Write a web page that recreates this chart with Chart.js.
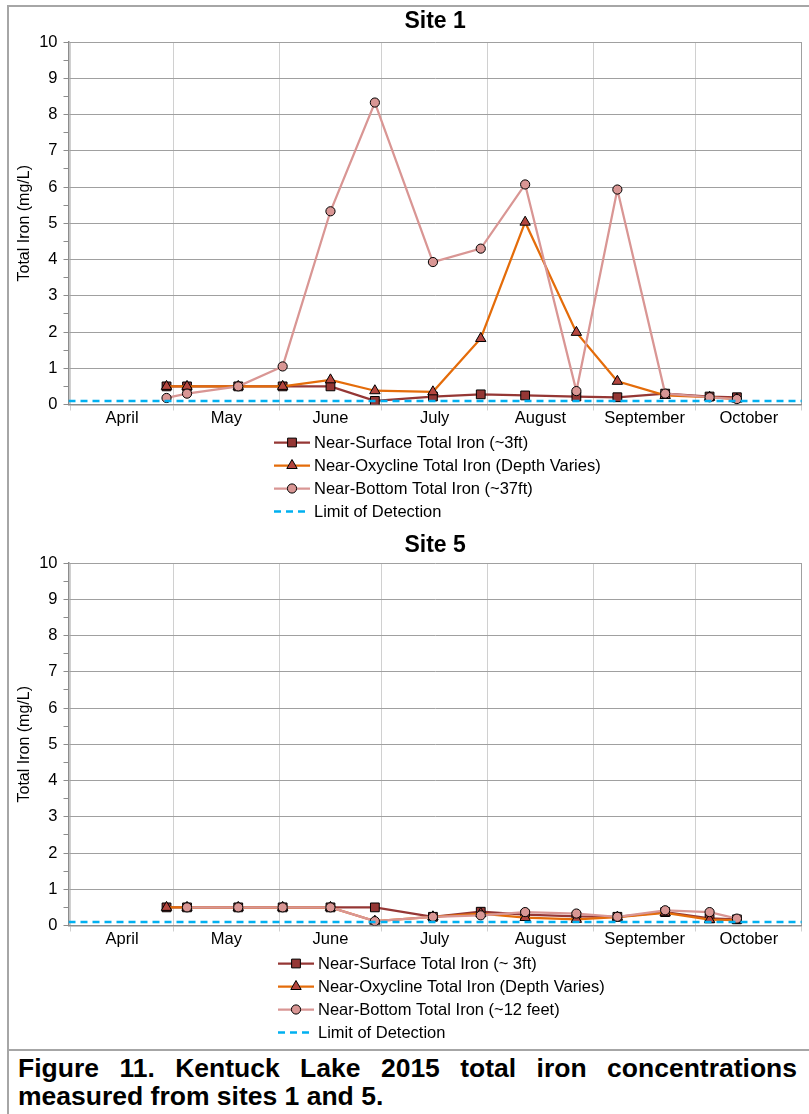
<!DOCTYPE html>
<html>
<head>
<meta charset="utf-8">
<script src="https://cdn.jsdelivr.net/npm/chart.js@4.4.1/dist/chart.umd.min.js"></script>
<style>
  body { margin: 0; background: #fff; width: 809px; height: 1114px; overflow: hidden; position: relative; font-family: "Liberation Sans", Arial, sans-serif; }
  #frame { position: absolute; left: 7px; top: 5px; width: 900px; height: 1200px; border-left: 2px solid #a6a6a6; border-top: 2px solid #a6a6a6; }
  #divider { position: absolute; left: 7px; top: 1049px; width: 900px; height: 2px; background: #a6a6a6; }
  canvas { position: absolute; left: 0; }
  #site1 { top: 0; }
  #site5 { top: 521px; }
  #caption { position: absolute; left: 18px; top: 1054px; width: 779px; font-weight: bold; font-size: 26.5px; line-height: 28px; text-align: justify; text-align-last: left; color: #000; }
</style>
</head>
<body>
<div id="frame"></div>
<div id="divider"></div>
<canvas id="site1" width="809" height="521"></canvas>
<canvas id="site5" width="809" height="525"></canvas>
<div id="caption">Figure 11. Kentuck Lake 2015 total iron concentrations measured from sites 1 and 5.</div>
<script>
// x axis runs in days after April 1, 2015
const months = ['April', 'May', 'June', 'July', 'August', 'September', 'October'];
const monthStarts = [0, 30, 61, 91, 122, 153, 183, 214];
const sampleDates = ['04-29', '05-05', '05-20', '06-02', '06-16', '06-29', '07-16',
                     '07-30', '08-12', '08-27', '09-08', '09-22', '10-05', '10-13'];
const detectionLimit = 0.1;

// total iron, mg/L
const site1Surface  = [0.5, 0.5, 0.5, 0.5, 0.5, 0.1, 0.22, 0.28, 0.25, 0.22, 0.2, 0.3, 0.22, 0.2];
const site1Oxycline = [0.5, 0.5, 0.5, 0.5, 0.68, 0.38, 0.35, 1.82, 5.03, 1.99, 0.64, 0.25, 0.2, 0.15];
const site1Bottom   = [0.18, 0.3, 0.5, 1.05, 5.33, 8.33, 3.93, 4.3, 6.07, 0.37, 5.93, 0.3, 0.2, 0.15];

const site5Surface  = [0.5, 0.5, 0.5, 0.5, 0.5, 0.5, 0.24, 0.38, 0.3, 0.25, 0.24, 0.37, 0.2, 0.17];
const site5Oxycline = [0.5, 0.5, 0.5, 0.5, 0.5, 0.12, 0.24, 0.33, 0.22, 0.17, 0.23, 0.35, 0.16, 0.15];
const site5Bottom   = [null, 0.5, 0.5, 0.5, 0.5, 0.12, 0.24, 0.28, 0.37, 0.33, 0.24, 0.42, 0.37, 0.19];

const site1Labels = ['Near-Surface Total Iron (~3ft)', 'Near-Oxycline Total Iron (Depth Varies)',
                     'Near-Bottom Total Iron (~37ft)', 'Limit of Detection'];
const site5Labels = ['Near-Surface Total Iron (~ 3ft)', 'Near-Oxycline Total Iron (Depth Varies)',
                     'Near-Bottom Total Iron (~12 feet)', 'Limit of Detection'];

const FONT = '"Liberation Sans", Arial, sans-serif';
const X_MIN = -0.7;
const X_MAX = 214;

function dayOf(md) {
  const [m, d] = md.split('-').map(Number);
  return (Date.UTC(2015, m - 1, d) - Date.UTC(2015, 3, 1)) / 86400000;
}

function toPoints(values) {
  return sampleDates.map((d, i) => ({ x: dayOf(d), y: values[i] }));
}

const monthMids = months.map((m, i) => (monthStarts[i] + monthStarts[i + 1]) / 2);

function drawMarker(ctx, style, r, x, y) {
  ctx.beginPath();
  if (style === 'rect') {
    const s = r * Math.SQRT1_2;
    ctx.rect(x - s, y - s, 2 * s, 2 * s);
  } else if (style === 'triangle') {
    ctx.moveTo(x, y - r);
    ctx.lineTo(x + r * 0.866, y + r * 0.5);
    ctx.lineTo(x - r * 0.866, y + r * 0.5);
    ctx.closePath();
  } else {
    ctx.arc(x, y, r, 0, Math.PI * 2);
  }
  ctx.fill();
  ctx.stroke();
}

// line + marker + label list under the plot
const seriesLegend = {
  id: 'seriesLegend',
  afterDraw(chart, args, opts) {
    const { ctx, chartArea } = chart;
    ctx.save();
    chart.data.datasets.forEach((ds, i) => {
      const y = Math.round(chartArea.bottom + opts.top + i * opts.step) + 0.5;
      const x = opts.left;
      ctx.strokeStyle = ds.borderColor;
      ctx.lineWidth = ds.borderWidth;
      ctx.setLineDash(ds.borderDash || []);
      ctx.beginPath();
      ctx.moveTo(x, y);
      ctx.lineTo(x + 36, y);
      ctx.stroke();
      ctx.setLineDash([]);
      if (ds.pointRadius) {
        ctx.fillStyle = ds.pointBackgroundColor;
        ctx.strokeStyle = '#000';
        ctx.lineWidth = 1;
        drawMarker(ctx, ds.pointStyle, ds.pointRadius, x + 18, y);
      }
      ctx.fillStyle = '#000';
      ctx.font = '16.5px ' + FONT;
      ctx.textBaseline = 'middle';
      ctx.fillText(ds.label, x + 40, y + 1);
    });
    ctx.restore();
  }
};

function ironChart(id, title, labels, surface, oxycline, bottom, layout) {
  return new Chart(document.getElementById(id), {
    type: 'line',
    data: {
      datasets: [
        { label: labels[0], data: toPoints(surface), borderColor: '#953735', borderWidth: 2.25,
          pointStyle: 'rect', pointRadius: 6.2, pointBackgroundColor: '#953735',
          pointBorderColor: '#000', pointBorderWidth: 1, order: 4 },
        { label: labels[1], data: toPoints(oxycline), borderColor: '#e46c0a', borderWidth: 2.25,
          pointStyle: 'triangle', pointRadius: 6, pointBackgroundColor: '#b4463f',
          pointBorderColor: '#000', pointBorderWidth: 1, order: 3 },
        { label: labels[2], data: toPoints(bottom), borderColor: '#d99694', borderWidth: 2.25,
          pointStyle: 'circle', pointRadius: 4.6, pointBackgroundColor: '#d99694',
          pointBorderColor: '#000', pointBorderWidth: 1, order: 2 },
        { label: labels[3], data: [{ x: X_MIN, y: detectionLimit }, { x: X_MAX, y: detectionLimit }],
          borderColor: '#00b0f0', borderWidth: 2.5, borderDash: [7, 5], pointRadius: 0, order: 1 }
      ]
    },
    options: {
      responsive: false,
      animation: false,
      devicePixelRatio: 1,
      layout: { padding: { left: 0, right: 7, top: 0, bottom: layout.bottom } },
      plugins: {
        legend: { display: false },
        tooltip: { enabled: false },
        title: {
          display: true, text: title, color: '#000', fullSize: false,
          font: { family: FONT, size: 23, weight: 'bold' },
          padding: { top: layout.titleTop, bottom: 42 - 27.6 - layout.titleTop }
        },
        seriesLegend: { left: layout.legendLeft, top: 37, step: 23.3 }
      },
      scales: {
        x: {
          type: 'linear', min: X_MIN, max: X_MAX,
          afterBuildTicks: s => {
            s.ticks = monthStarts.concat(monthMids).sort((a, b) => a - b).map(v => ({ value: v }));
          },
          afterFit: s => { s.height = 30.5; },
          ticks: {
            autoSkip: false, maxRotation: 0, padding: 0, color: '#000',
            font: { family: FONT, size: 16.5, lineHeight: 1 },
            callback: v => { const i = monthMids.indexOf(v); return i >= 0 ? months[i] : ''; }
          },
          grid: {
            tickLength: 6,
            color: c => monthStarts.includes(c.tick.value)
              ? (c.tick.value === X_MAX ? '#a0a0a0' : '#d0d0d0') : 'rgba(0,0,0,0)',
            tickColor: c => monthStarts.includes(c.tick.value) ? '#d0d0d0' : 'rgba(0,0,0,0)'
          },
          border: { color: '#8c8c8c', width: 1.5 }
        },
        y: {
          min: 0, max: 10,
          afterFit: s => { s.width = 68.5; },
          title: {
            display: true, text: 'Total Iron (mg/L)', color: '#000',
            font: { family: FONT, size: 16 }, padding: { top: 15, bottom: 0 }
          },
          ticks: {
            stepSize: 0.5, autoSkip: false, padding: 6, color: '#000',
            font: { family: FONT, size: 16.5 },
            callback: v => Number.isInteger(v) ? v : ''
          },
          grid: {
            tickLength: 5,
            color: c => Number.isInteger(c.tick.value) ? '#a0a0a0' : 'rgba(0,0,0,0)',
            tickColor: '#8c8c8c'
          },
          border: { color: '#8c8c8c', width: 1.5 }
        }
      }
    },
    plugins: [seriesLegend]
  });
}

ironChart('site1', 'Site 1', site1Labels, site1Surface, site1Oxycline, site1Bottom,
  { bottom: 86, titleTop: 8, legendLeft: 274 });
ironChart('site5', 'Site 5', site5Labels, site5Surface, site5Oxycline, site5Bottom,
  { bottom: 90, titleTop: 10.5, legendLeft: 278 });
</script>
</body>
</html>
